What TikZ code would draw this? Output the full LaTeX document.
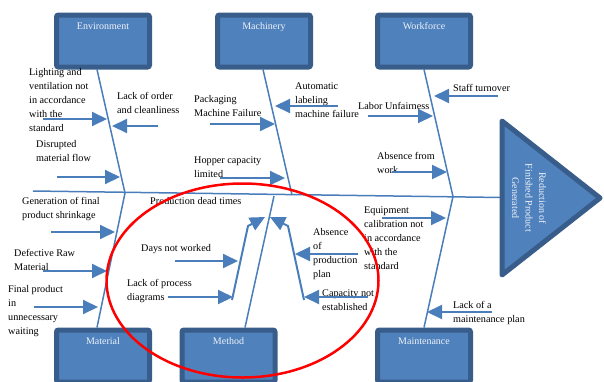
\documentclass[tikz,border=0pt]{standalone}
\usepackage{fontspec}
\setmainfont{Liberation Serif}
\usetikzlibrary{arrows.meta,shapes.geometric,backgrounds}
\definecolor{boxfill}{HTML}{4F81BD}
\definecolor{boxline}{HTML}{385D8A}
\definecolor{boneblue}{HTML}{4A7EBB}
\definecolor{boxtext}{HTML}{EEF2F8}
\begin{document}
\begin{tikzpicture}[x=1pt,y=-1pt,
  category/.style={draw=boxline, fill=boxfill, line width=5pt, rounded corners=2pt,
    minimum width=93pt, inner xsep=0pt, inner ysep=0pt, text height=14pt,
    text depth=38pt, text=boxtext, font=\fontsize{10}{12}\selectfont, anchor=north},
  bone/.style={draw=boneblue, line width=1.5pt},
  cause/.style={draw=boneblue, line width=2pt, -{Triangle[length=15pt,width=14pt]}},
  lbl/.style={anchor=north west, inner sep=0pt, align=left, font=\fontsize{10.2}{14}\selectfont},
  focus/.style={draw=red, line width=2.5pt, ellipse, inner sep=0pt},
]
\useasboundingbox (0,0) rectangle (604,381);

% ---- category boxes ----
\node[category] (env)  at (103,12.5)  {Environment};
\node[category] (mach) at (264,12.5)  {Machinery};
\node[category] (work) at (424,12.5)  {Workforce};
\node[category] (mat)  at (103,327.5) {Material};
\node[category] (meth) at (228.5,327.5) {Method};
\node[category] (mnt)  at (424,327.5) {Maintenance};

% ---- junctions on the spine ----
\coordinate (tail) at (33,191);
\coordinate (head) at (502,197.5);
\coordinate (jEM) at (125,193);
\coordinate (jMa) at (292,195);
\coordinate (jMe) at (274,196);
\coordinate (jWM) at (453,196.5);

% ---- spine and main bones, kept beneath the boxes ----
\begin{scope}[on background layer]
\draw[bone] (tail) -- (head);
\draw[bone] ([xshift=-6pt]env.south) -- (jEM);
\draw[bone] (jEM) -- ([xshift=-6pt]mat.north);
\draw[bone] ([xshift=-1pt]mach.south) -- (jMa);
\draw[bone] (jMe) -- ([xshift=16.5pt]meth.north);
\draw[bone] (work.south) -- (jWM);
\draw[bone] (jWM) -- (mnt.north);
\end{scope}

% ---- effect head ----
\draw[draw=boxline, fill=boxfill, line width=5pt, line join=round]
  (502,121) -- (600,198) -- (502,275) -- cycle;
\node[rotate=-90, align=center, text=boxtext, inner sep=0pt,
  font=\fontsize{10}{13.5}\selectfont] (effect) at (529,198)
  {Reduction of\\Finished Product\\Generated};

% ---- cause labels ----
\node[lbl] (t1)  at (29,68.5)   {Lighting and\\ventilation not\\in accordance\\with the\\standard};
\node[lbl] (t2)  at (117,92.5)  {Lack of order\\and cleanliness};
\node[lbl] (t3)  at (36,140)    {Disrupted\\material flow};
\node[lbl] (t4)  at (22,197.5)  {Generation of final\\product shrinkage};
\node[lbl] (t5)  at (14,249.5)  {Defective Raw\\Material};
\node[lbl] (t6)  at (8,285.5)   {Final product\\in\\unnecessary\\waiting};
\node[lbl] (t7)  at (194,95.5)  {Packaging\\Machine Failure};
\node[lbl] (t8)  at (295,82.5)  {Automatic\\labeling\\machine failure};
\node[lbl] (t9)  at (194,156.5) {Hopper capacity\\limited};
\node[lbl] (t10) at (453,84.5)  {Staff turnover};
\node[lbl] (t11) at (358,102.5) {Labor Unfairness};
\node[lbl] (t12) at (377,152.5) {Absence from\\work};
\node[lbl] (t13) at (364,206.5) {Equipment\\calibration not\\in accordance\\with the\\standard};
\node[lbl] (t14) at (453,301.5) {Lack of a\\maintenance plan};
\node[lbl] (t15) at (150,197.5) {Production dead times};
\node[lbl] (t16) at (141,244.5) {Days not worked};
\node[lbl] (t17) at (127,279.5) {Lack of process\\diagrams};
\node[lbl] (t18) at (313,228.5) {Absence\\of\\production\\plan};
\node[lbl] (t19) at (322,289.5) {Capacity not\\established};

% ---- cause arrows ----
\coordinate (a1s) at (43,119);   \coordinate (a1e) at (107,119);
\coordinate (a2s) at (158,126);  \coordinate (a2e) at (112,126);
\coordinate (a3s) at (57,177);   \coordinate (a3e) at (120,177);
\coordinate (a4s) at (51,232);   \coordinate (a4e) at (115,232);
\coordinate (a5s) at (43,271);   \coordinate (a5e) at (107,271);
\coordinate (a6s) at (34,307);   \coordinate (a6e) at (98,307);
\coordinate (a7s) at (210,124);  \coordinate (a7e) at (275,124);
\coordinate (a8s) at (338,106);  \coordinate (a8e) at (275,106);
\coordinate (a9s) at (220,178);  \coordinate (a9e) at (285,178);
\coordinate (a10s) at (498,96);  \coordinate (a10e) at (434,96);
\coordinate (a11s) at (368,116); \coordinate (a11e) at (433,116);
\coordinate (a12s) at (392,172); \coordinate (a12e) at (447,172);
\coordinate (a13s) at (382,218); \coordinate (a13e) at (446,218);
\coordinate (a14s) at (492,312); \coordinate (a14e) at (427,312);
\coordinate (a15s) at (175,261); \coordinate (a15e) at (238,261);
\coordinate (a16s) at (168,297); \coordinate (a16e) at (233,297);
\coordinate (a17s) at (358,254); \coordinate (a17e) at (295,254);
\coordinate (a18s) at (368,297); \coordinate (a18e) at (304,297);
\foreach \i in {1,...,18} {\draw[cause] (a\i s) -- (a\i e);}

% ---- method sub-bones ----
\coordinate (m1s) at (232,300); \coordinate (m1k) at (248,226); \coordinate (m1e) at (265,217);
\coordinate (m2s) at (304,300); \coordinate (m2k) at (288,226); \coordinate (m2e) at (270,217);
\draw[cause] (m1s) -- (m1k) -- (m1e);
\draw[cause] (m2s) -- (m2k) -- (m2e);

% ---- highlighted region ----
\node[focus, minimum width=272pt, minimum height=194pt] (ring) at (242.5,280.5) {};
\end{tikzpicture}
\end{document}
